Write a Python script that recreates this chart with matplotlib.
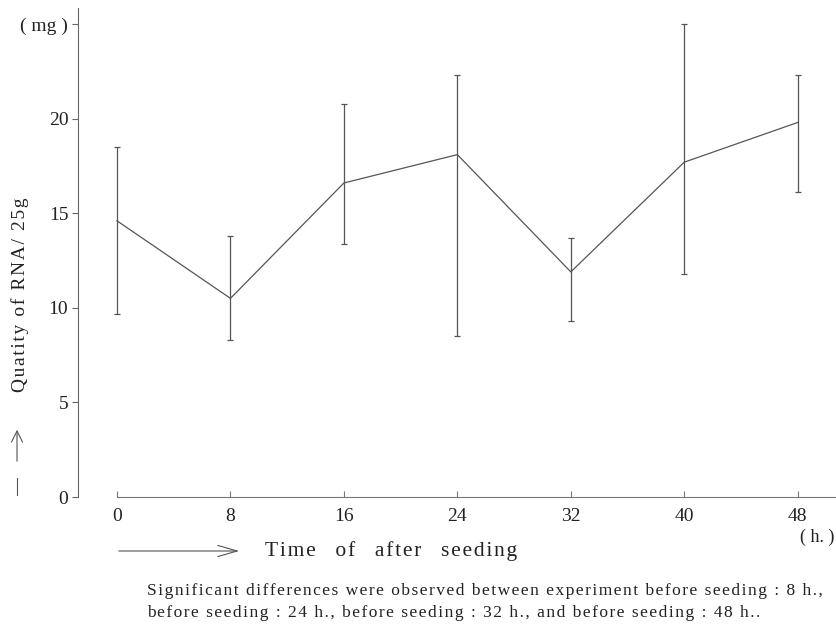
import matplotlib.pyplot as plt
import matplotlib.lines as mlines
import matplotlib.patches as mpatches

plt.rcParams['font.family'] = ['Liberation Serif', 'DejaVu Serif']

# hours after seeding and RNA quantity (mg)
hours = [0, 8, 16, 24, 32, 40, 48]
rna = [14.6, 10.5, 16.6, 18.1, 11.9, 17.7, 19.8]
rna_low = [9.7, 8.3, 13.4, 8.5, 9.3, 11.8, 16.1]
rna_high = [18.5, 13.8, 20.8, 22.3, 13.7, 25.0, 22.3]

y_ticks = [0, 5, 10, 15, 20, 25]
y_labels = ['0', '5', '10', '15', '20', '( mg )']

note1 = 'Significant differences were observed between experiment before seeding : 8 h.,'
note2 = 'before seeding : 24 h., before seeding : 32 h., and before seeding : 48 h..'


def spaced(s, words=1):
    # wide letter spacing like the typeset original
    return '\u200a'.join(s).replace(' ', ' ' * words)


err_lo = [m - lo for m, lo in zip(rna, rna_low)]
err_hi = [hi - m for m, hi in zip(rna, rna_high)]

fig = plt.figure(figsize=(8.36, 6.24), dpi=100)
ax = fig.add_axes([78/836, 1-497/624, 1-78/836, (497-8)/624])

col = '#555555'
ax.errorbar(hours, rna, yerr=[err_lo, err_hi], color=col, lw=0.9,
            elinewidth=0.9, capsize=2, capthick=0.9)

ax.set_xlim(-2.75, 50.7)
ax.set_ylim(0, 25.85)

for s in ['top', 'right']:
    ax.spines[s].set_visible(False)
ax.spines['bottom'].set_bounds(0, 50.7)
ax.spines['bottom'].set_color('#777777')
ax.spines['left'].set_color('#666666')

ax.set_xticks(hours)
ax.set_xticklabels([str(h) for h in hours])
ax.set_yticks(y_ticks)
ax.set_yticklabels(y_labels)
ax.tick_params(axis='x', direction='in', length=4, width=0.8, pad=8, labelsize=14, colors='#777777', labelcolor='#222222')
ax.tick_params(axis='y', direction='out', length=4, width=0.8, pad=3, labelsize=14, colors='#666666', labelcolor='#222222')

# y label with arrow
fig.text(20/836, 1-295/624, spaced('Quatity of RNA/ 25g'), rotation=90, ha='center', va='center',
         fontsize=14, color='#222222')
fig.add_artist(mlines.Line2D([17/836, 17/836], [1-478/624, 1-495/624], color='#555555', lw=0.8))
fig.patches.append(mpatches.FancyArrowPatch((17/836, 1-464/624), (17/836, 1-427/624),
                   transform=fig.transFigure, arrowstyle='->,head_length=8,head_width=4',
                   color='#555555', lw=0.8, mutation_scale=1))

# x label with arrow
fig.patches.append(mpatches.FancyArrowPatch((116/836, 1-551/624), (242/836, 1-551/624),
                   transform=fig.transFigure, arrowstyle='->,head_length=14,head_width=4',
                   color='#555555', lw=0.8, mutation_scale=1))
fig.text(265/836, 1-551/624, spaced('Time of after seeding', 3), ha='left', va='center', fontsize=15.5, color='#222222')
fig.text(834/836, 1-537/624, '( h. )', ha='right', va='center', fontsize=13, color='#222222')

# note
fig.text(147/836, 1-591/624, spaced(note1), ha='left', va='center', fontsize=12.5, color='#222222')
fig.text(147/836, 1-613/624, spaced(note2), ha='left', va='center', fontsize=12.5, color='#222222')

fig.savefig('out.png', dpi=100)
